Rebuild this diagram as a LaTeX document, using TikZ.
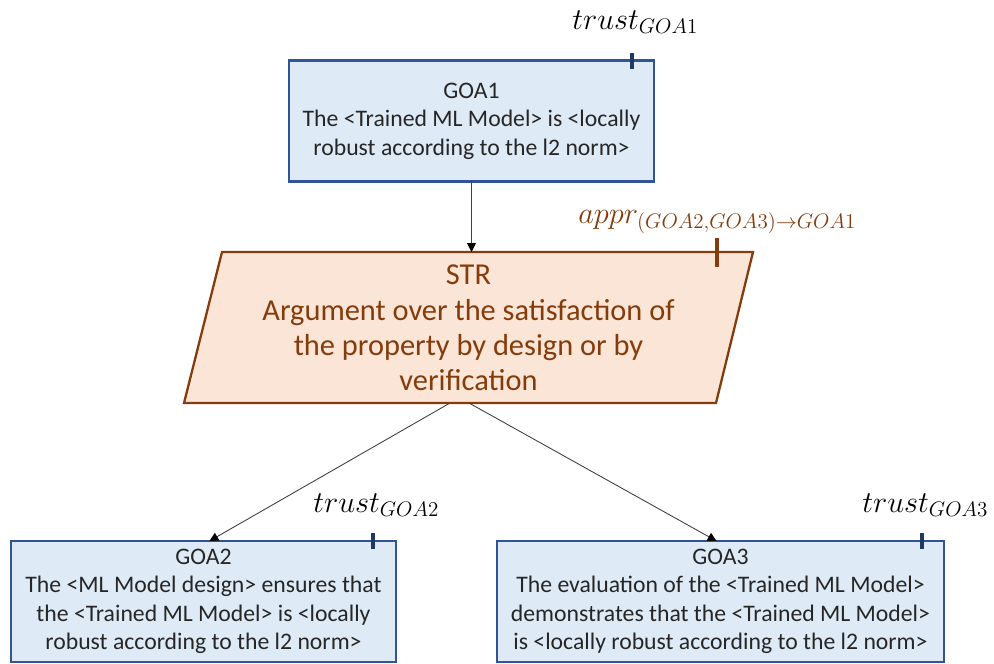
\documentclass[tikz,border=0pt]{standalone}
\usepackage{fontspec}
\setmainfont{Carlito}
\usetikzlibrary{arrows.meta,calc}
\definecolor{goalfill}{HTML}{DEEBF7}
\definecolor{goalline}{HTML}{2F5597}
\definecolor{goaltickc}{HTML}{1F3864}
\definecolor{goaltext}{HTML}{262626}
\definecolor{strfill}{HTML}{FBE5D6}
\definecolor{strline}{HTML}{843C0C}
\definecolor{wire}{HTML}{404040}

\begin{document}
\begin{tikzpicture}[x=0.02cm,y=-0.02cm,
  goal/.style={draw=goalline, fill=goalfill, line width=1.3pt, text=goaltext,
    align=center, inner sep=0pt, outer sep=0pt,
    font=\fontsize{13.5}{16.2}\selectfont, minimum height=2.42cm},
  goaltick/.style={draw=goaltickc, line width=1.8pt},
  strtick/.style={draw=strline, line width=1.8pt},
  strshape/.style={draw=strline, fill=strfill, line width=1.3pt, line join=miter},
  strtext/.style={text=strline, align=center, inner sep=0pt,
    font=\fontsize{17.3}{20.1}\selectfont},
  wirearrow/.style={draw=wire, line width=0.5pt, -{Triangle[width=5pt,length=5pt,black]}},
  mathlabel/.style={anchor=base west, inner sep=0pt, font=\fontsize{17}{20}\selectfont},
]
\useasboundingbox (0,0) rectangle (994,663);

% goal boxes
\node[goal, minimum width=7.3cm] (goa1) at (471.5,121)
  {GOA1\\The <Trained ML Model> is <locally\\robust according to the l2 norm>};
\node[goal, minimum width=7.7cm] (goa2) at (203.5,601.5)
  {GOA2\\The <ML Model design> ensures that\\the <Trained ML Model> is <locally\\robust according to the l2 norm>};
\node[goal, minimum width=8.94cm] (goa3) at (720.5,601.5)
  {GOA3\\The evaluation of the <Trained ML Model>\\demonstrates that the <Trained ML Model>\\is <locally robust according to the l2 norm>};

% strategy parallelogram
\coordinate (strtl) at (222,252);
\coordinate (strtr) at (753,252);
\coordinate (strbr) at (716,403);
\coordinate (strbl) at (184,403);
\draw[strshape] (strtl) -- (strtr) -- (strbr) -- (strbl) -- cycle;
\node[strtext] (str) at (468.5,328)
  {STR\\Argument over the satisfaction of\\the property by design or by\\verification};

% trust ticks on the goals and the strategy
\draw[goaltick] ($(goa1.north east)+(-22,-8)$) -- ($(goa1.north east)+(-22,8)$);
\draw[goaltick] ($(goa2.north east)+(-23,-8)$) -- ($(goa2.north east)+(-23,8)$);
\draw[goaltick] ($(goa3.north east)+(-22,-8)$) -- ($(goa3.north east)+(-22,8)$);
\draw[strtick] ($(strtr)+(-36,-14)$) -- ($(strtr)+(-36,15)$);

% labels
\node[mathlabel] (t1) at (572,29) {$trust_{GOA1}$};
\node[mathlabel] (t2) at (313,512) {$trust_{GOA2}$};
\node[mathlabel] (t3) at (862,512) {$trust_{GOA3}$};
\node[mathlabel, text=strline] (ap) at (578,223) {$appr_{(GOA2{,}GOA3)\rightarrow GOA1}$};

% connectors
\coordinate (strout2) at (450,403);
\coordinate (strout3) at (469,403);
\draw[wirearrow] (goa1.south) -- (goa1.south |- strtl);
\draw[wirearrow] (strout2) -- ($(goa2.north)+(6,0)$);
\draw[wirearrow] (strout3) -- ($(goa3.north)+(-4,0)$);
\end{tikzpicture}
\end{document}
